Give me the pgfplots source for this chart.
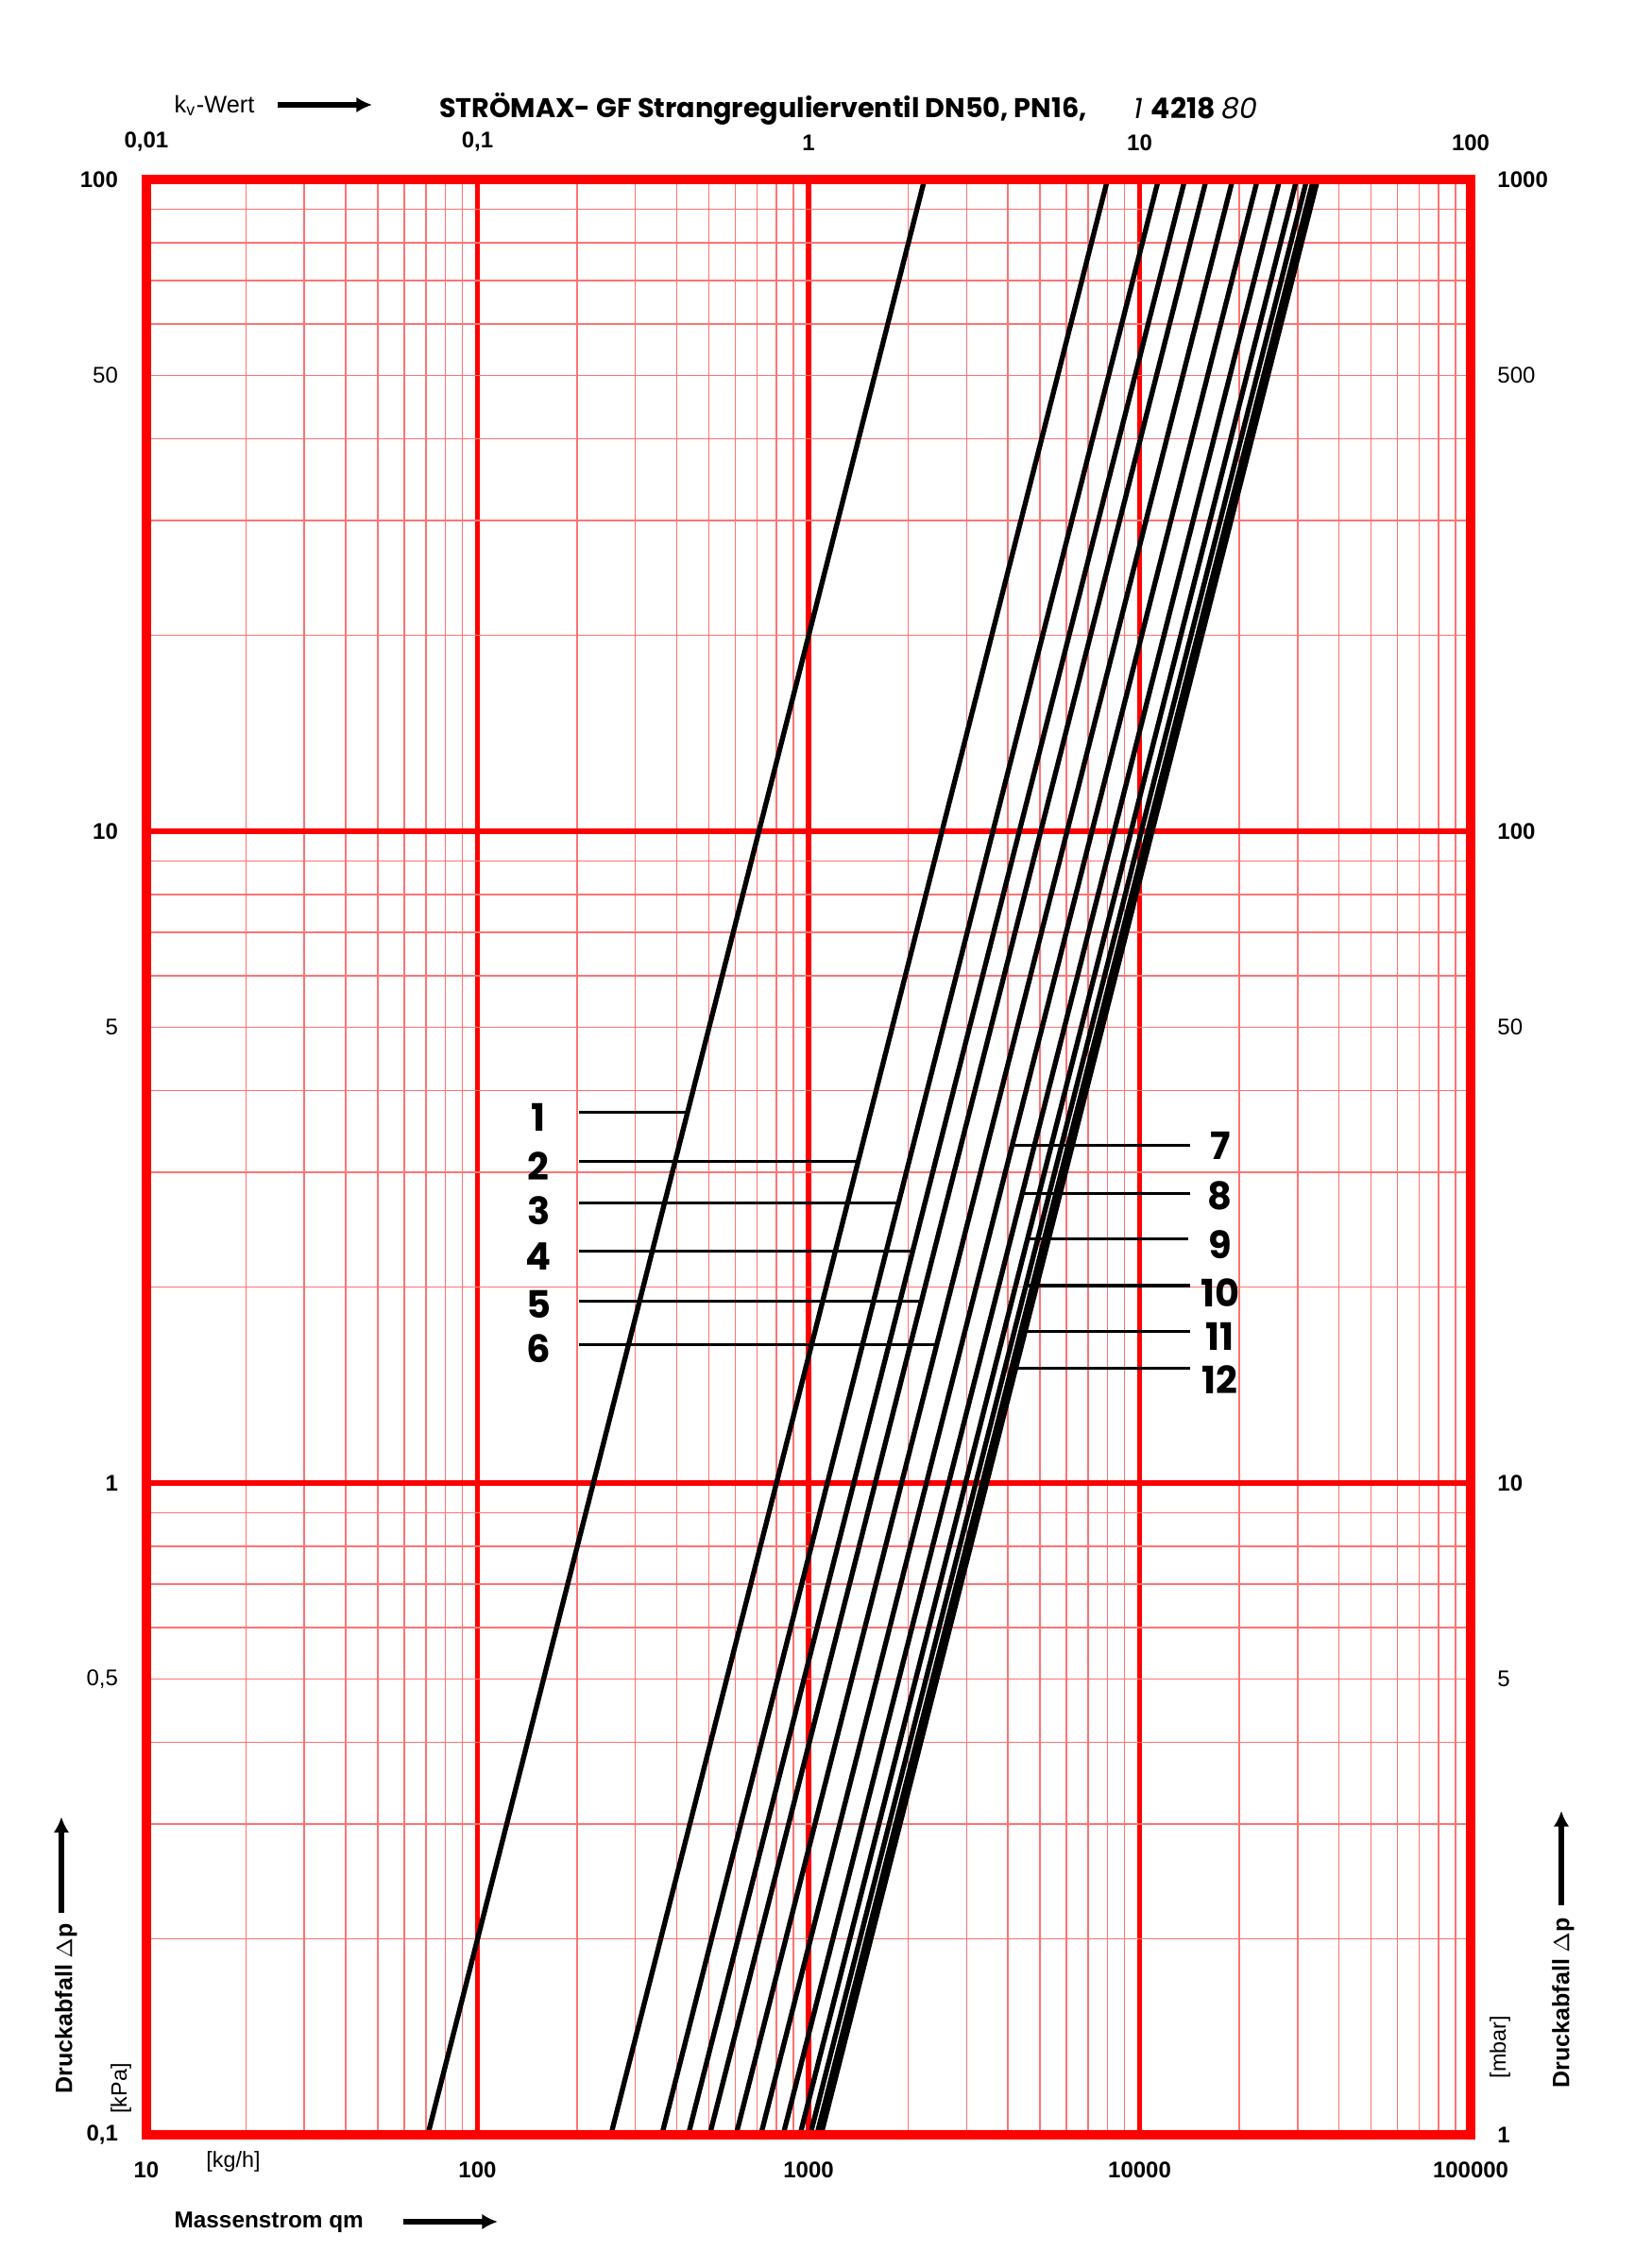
\documentclass[border=0pt]{standalone}
\usepackage{fontspec}
\setmainfont{Liberation Sans}
\newfontfamily\gothic{Poppins}
\usepackage{pgfplots}
\pgfplotsset{compat=1.18}
\usetikzlibrary{arrows.meta}

\definecolor{gridred}{RGB}{255,0,0}

\begin{document}
\begin{tikzpicture}
% page = 1731x2401 px at 0.3pt/px, axis box 420.6pt x 621pt
\useasboundingbox (-46.5pt,-42.3pt) rectangle (472.8pt,678pt);

% grid, curves and left/bottom labels
\begin{axis}[
    at={(0,0)}, anchor=south west,
    scale only axis, width=420.6pt, height=621pt,
    xmode=log, ymode=log,
    xmin=10, xmax=100000, ymin=0.1, ymax=100,
    axis line style={draw=none},
    major tick length=0pt, minor tick length=0pt,
    xtick={10,100,1000,10000,100000},
    xticklabels={\textbf{10},\textbf{100},\textbf{1000},\textbf{10000},\textbf{100000}},
    ytick={0.1,1,10,100},
    yticklabels={\textbf{0,1},\textbf{1},\textbf{10},\textbf{100}},
    extra y ticks={0.5,5,50},
    extra y tick labels={{0,5},5,50},
    extra tick style={grid=none},
    minor xtick={20,30,40,50,60,70,80,90,200,300,400,500,600,700,800,900,
        2000,3000,4000,5000,6000,7000,8000,9000,
        20000,30000,40000,50000,60000,70000,80000,90000},
    minor ytick={0.2,0.3,0.4,0.5,0.6,0.7,0.8,0.9,2,3,4,5,6,7,8,9,
        20,30,40,50,60,70,80,90},
    grid=both,
    major grid style={gridred, line width=1.6pt},
    minor grid style={gridred!55, line width=0.45pt},
    tick label style={font=\fontsize{7.2}{8.6}\selectfont},
    xticklabel shift=5pt,
    yticklabel shift=5.5pt,
]
% valves 1..12: dp = 0.1 kPa and 100 kPa
\addplot[black, line width=1.6pt] coordinates {(70.8,0.1) (2240,100)};
\addplot[black, line width=1.6pt] coordinates {(253,0.1) (8000,100)};
\addplot[black, line width=1.6pt] coordinates {(360.5,0.1) (11400,100)};
\addplot[black, line width=1.6pt] coordinates {(433.2,0.1) (13700,100)};
\addplot[black, line width=1.6pt] coordinates {(502.8,0.1) (15900,100)};
\addplot[black, line width=1.6pt] coordinates {(604.0,0.1) (19100,100)};
\addplot[black, line width=1.6pt] coordinates {(717.8,0.1) (22700,100)};
\addplot[black, line width=1.6pt] coordinates {(838.0,0.1) (26500,100)};
\addplot[black, line width=1.6pt] coordinates {(942.3,0.1) (29800,100)};
\addplot[black, line width=1.6pt] coordinates {(1011.9,0.1) (32000,100)};
\addplot[black, line width=1.6pt] coordinates {(1059.4,0.1) (33500,100)};
\addplot[black, line width=1.6pt] coordinates {(1091.0,0.1) (34500,100)};

% leader lines
\addplot[black, line width=0.9pt] coordinates {(203,3.71) (431,3.71)};
\addplot[black, line width=0.9pt] coordinates {(203,3.12) (1413,3.12)};
\addplot[black, line width=0.9pt] coordinates {(203,2.69) (1870,2.69)};
\addplot[black, line width=0.9pt] coordinates {(203,2.27) (2064,2.27)};
\addplot[black, line width=0.9pt] coordinates {(203,1.90) (2191,1.90)};
\addplot[black, line width=0.9pt] coordinates {(203,1.63) (2439,1.63)};
\addplot[black, line width=0.9pt] coordinates {(4124,3.30) (14200,3.30)};
\addplot[black, line width=0.9pt] coordinates {(4418,2.78) (14200,2.78)};
\addplot[black, line width=0.9pt] coordinates {(4587,2.37) (14000,2.37)};
\addplot[black, line width=1.2pt] coordinates {(4537,2.01) (14200,2.01)};
\addplot[black, line width=0.9pt] coordinates {(4381,1.71) (14200,1.71)};
\addplot[black, line width=0.9pt] coordinates {(4226,1.50) (14200,1.50)};

\begin{scope}[font=\gothic\bfseries\fontsize{12}{14}\selectfont]
\node at (axis cs:153,3.64) {1};
\node at (axis cs:153,3.06) {2};
\node at (axis cs:153,2.62) {3};
\node at (axis cs:153,2.23) {4};
\node at (axis cs:153,1.88) {5};
\node at (axis cs:153,1.61) {6};
\node at (axis cs:17520,3.29) {7};
\node at (axis cs:17520,2.76) {8};
\node at (axis cs:17520,2.32) {9};
\node at (axis cs:17520,1.96) {10};
\node at (axis cs:17520,1.68) {11};
\node at (axis cs:17520,1.44) {12};
\end{scope}
\end{axis}

% frame, kv scale on top, mbar scale on the right
\begin{axis}[
    at={(0,0)}, anchor=south west,
    scale only axis, width=420.6pt, height=621pt,
    xmode=log, ymode=log,
    xmin=0.01, xmax=100, ymin=1, ymax=1000,
    axis line style={gridred, line width=3pt},
    major tick length=0pt, minor tick length=0pt,
    xticklabel pos=right, yticklabel pos=right,
    xtick={0.01,0.1,1,10,100},
    xticklabels={\textbf{0,01},\textbf{0,1},\textbf{1},\textbf{10},\textbf{100}},
    ytick={1,10,100,1000},
    yticklabels={\textbf{1},\textbf{10},\textbf{100},\textbf{1000}},
    extra y ticks={5,50,500},
    extra y tick labels={5,50,500},
    extra tick style={grid=none},
    tick label style={font=\fontsize{7.2}{8.6}\selectfont},
    xticklabel shift=5.5pt,
    yticklabel shift=5pt,
]
\end{axis}

% titles and axis captions
\node[anchor=west, inner sep=0pt, font=\fontsize{7.6}{9}\selectfont] at (8.7pt,644.4pt) {k\textsubscript{v}-Wert};
\draw[line width=2pt, -{Latex[length=5pt,width=5pt]}] (41.7pt,644.7pt) -- (71.7pt,644.7pt);
\node[anchor=west, inner sep=0pt, font=\gothic\bfseries\fontsize{8.6}{10}\selectfont] at (92.8pt,643.5pt)
    {STRÖMAX- GF Strangregulierventil DN50, PN16,};
\node[anchor=west, inner sep=0pt, font=\gothic\fontsize{9}{10}\selectfont] at (313.4pt,643.5pt)
    {\itshape 1 \upshape\bfseries 4218 \mdseries\itshape 80};

\node[anchor=west, inner sep=0pt, font=\bfseries\fontsize{7.3}{9}\selectfont] at (8.7pt,-27.9pt) {Massenstrom qm};
\draw[line width=2pt, -{Latex[length=5pt,width=5pt]}] (81.6pt,-27.6pt) -- (111.6pt,-27.6pt);
\node[font=\fontsize{7}{8}\selectfont] at (27.6pt,-8.4pt) {[kg/h]};

\node[rotate=90, font=\bfseries\fontsize{7.5}{9}\selectfont] at (-25.5pt,40.2pt) {Druckabfall $\Delta$p};
\draw[line width=2pt, -{Latex[length=5pt,width=5pt]}] (-27pt,70.5pt) -- (-27pt,101pt);
\node[rotate=90, font=\fontsize{7}{8}\selectfont] at (-8.1pt,14.7pt) {[kPa]};

\node[rotate=90, font=\fontsize{7}{8}\selectfont] at (429.9pt,27.9pt) {[mbar]};
\node[rotate=90, font=\bfseries\fontsize{7.5}{9}\selectfont] at (450pt,42pt) {Druckabfall $\Delta$p};
\draw[line width=2pt, -{Latex[length=5pt,width=5pt]}] (449.4pt,72.9pt) -- (449.4pt,102.9pt);
\end{tikzpicture}
\end{document}
